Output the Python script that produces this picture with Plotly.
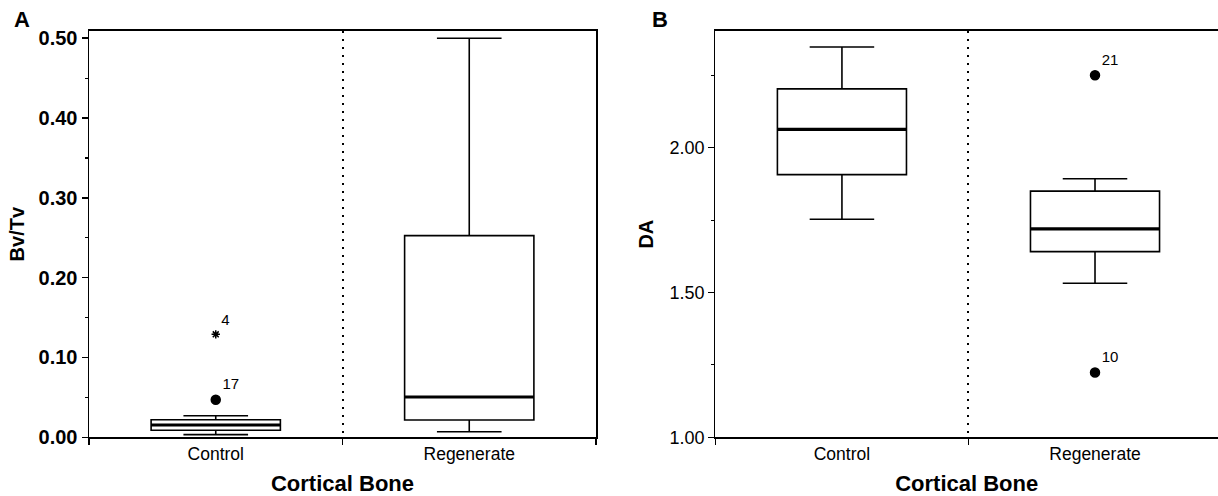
import plotly.graph_objects as go

categories = ["Control", "Regenerate"]

# Panel A: Bv/Tv
a_lower = [0.0034, 0.0070]
a_q1 = [0.0088, 0.0217]
a_median = [0.0154, 0.0505]
a_q3 = [0.0220, 0.2526]
a_upper = [0.0270, 0.5000]
a_out_cat = ["Control", "Control"]
a_out_val = [0.047, 0.129]
a_out_lab = ["17", "4"]
a_out_sym = ["circle", "asterisk-open"]

# Panel B: DA
b_lower = [1.753, 1.532]
b_q1 = [1.907, 1.641]
b_median = [2.063, 1.720]
b_q3 = [2.203, 1.850]
b_upper = [2.348, 1.893]
b_out_cat = ["Regenerate", "Regenerate"]
b_out_val = [2.250, 1.224]
b_out_lab = ["21", "10"]
b_out_sym = ["circle", "circle"]

W, H = 1218, 496
FONT = "Liberation Sans, Arial, sans-serif"
BOXW = 0.51

fig = go.Figure()

def add_panel(xa, ya, lower, q1, med, q3, upper, oc, ov, ol, osym):
    fig.add_trace(go.Box(
        x=categories, lowerfence=lower, q1=q1, median=med, q3=q3, upperfence=upper,
        width=BOXW, whiskerwidth=0.5, fillcolor="white",
        line=dict(color="black", width=1.6), boxpoints=False,
        xaxis=xa, yaxis=ya, showlegend=False, hoverinfo="skip"))
    fig.add_trace(go.Scatter(
        x=oc, y=ov, mode="markers+text", text=ol, textposition="top right",
        textfont=dict(family=FONT, size=15, color="#000000"),
        marker=dict(symbol=osym, size=[9 if s == "circle" else 7 for s in osym],
                    color="#000000", opacity=1,
                    line=dict(color="#000000", width=1.5)),
        xaxis=xa, yaxis=ya, showlegend=False, hoverinfo="skip"))
    for i, m in enumerate(med):
        fig.add_shape(type="line", xref=xa, yref=ya,
                      x0=i - BOXW / 2, x1=i + BOXW / 2, y0=m, y1=m,
                      line=dict(color="black", width=3.2))

add_panel("x", "y", a_lower, a_q1, a_median, a_q3, a_upper,
          a_out_cat, a_out_val, a_out_lab, a_out_sym)
add_panel("x2", "y2", b_lower, b_q1, b_median, b_q3, b_upper,
          b_out_cat, b_out_val, b_out_lab, b_out_sym)

ytop = 1 - 31 / H
ybot = 1 - 437.3 / H

def xaxis_common(domain, rng, mirror):
    return dict(
        domain=domain, type="category", range=rng, tickson="boundaries",
        automargin=False,
        ticks="outside", ticklen=6, tickwidth=1.5, tickcolor="black",
        showgrid=True, gridcolor="black", gridwidth=2, griddash="2px,6px",
        showline=True, linecolor="black", linewidth=2, mirror=mirror,
        tickfont=dict(family=FONT, size=17.5, color="black"),
        title=dict(text="Cortical Bone", standoff=15,
                   font=dict(family=FONT, size=22, color="black", weight="bold")),
        zeroline=False, fixedrange=True)

fig.update_layout(
    width=W, height=H,
    margin=dict(l=0, r=0, t=0, b=0, autoexpand=False),
    paper_bgcolor="white", plot_bgcolor="white",
    xaxis=xaxis_common([89 / W, 596 / W], [-0.5, 1.5], True),
    xaxis2=dict(**xaxis_common([715.4 / W, 1.0], [-0.5, 1.486], True), anchor="y2"),
    yaxis=dict(
        domain=[ybot, ytop], range=[0, 0.509], tick0=0, dtick=0.1, tickformat=".2f",
        automargin=False,
        ticks="outside", ticklen=6, tickwidth=1.5, tickcolor="black",
        minor=dict(dtick=0.05, ticks="outside", ticklen=3, tickwidth=1.2, tickcolor="black"),
        showgrid=False, zeroline=False, showline=True, linecolor="black", linewidth=1.5,
        mirror=True,
        tickfont=dict(family=FONT, size=20, color="black", weight="bold"),
        title=dict(text="Bv/Tv", standoff=8,
                   font=dict(family=FONT, size=20, color="black", weight="bold"))),
    yaxis2=dict(
        domain=[ybot, ytop], range=[1.0, 2.403], tick0=1.0, dtick=0.5, tickformat=".2f",
        anchor="x2", automargin=False,
        ticks="outside", ticklen=6, tickwidth=1.5, tickcolor="black",
        minor=dict(dtick=0.25, ticks="outside", ticklen=3, tickwidth=1.2, tickcolor="black"),
        showgrid=False, zeroline=False, showline=True, linecolor="black", linewidth=1.2,
        mirror=False,
        tickfont=dict(family=FONT, size=18, color="black"),
        title=dict(text="DA", standoff=10,
                   font=dict(family=FONT, size=20, color="black", weight="bold"))),
    annotations=[
        dict(text="A", x=22 / W, y=1 - 19 / H, xref="paper", yref="paper",
             xanchor="center", yanchor="middle",
             showarrow=False, font=dict(family=FONT, size=22, color="black", weight="bold")),
        dict(text="B", x=660 / W, y=1 - 20 / H, xref="paper", yref="paper",
             xanchor="center", yanchor="middle",
             showarrow=False, font=dict(family=FONT, size=22, color="black", weight="bold")),
    ],
)

fig.write_html("out.html", config={"displayModeBar": False, "staticPlot": True},
               post_script="document.body.style.margin='0';document.body.style.overflow='hidden';")
